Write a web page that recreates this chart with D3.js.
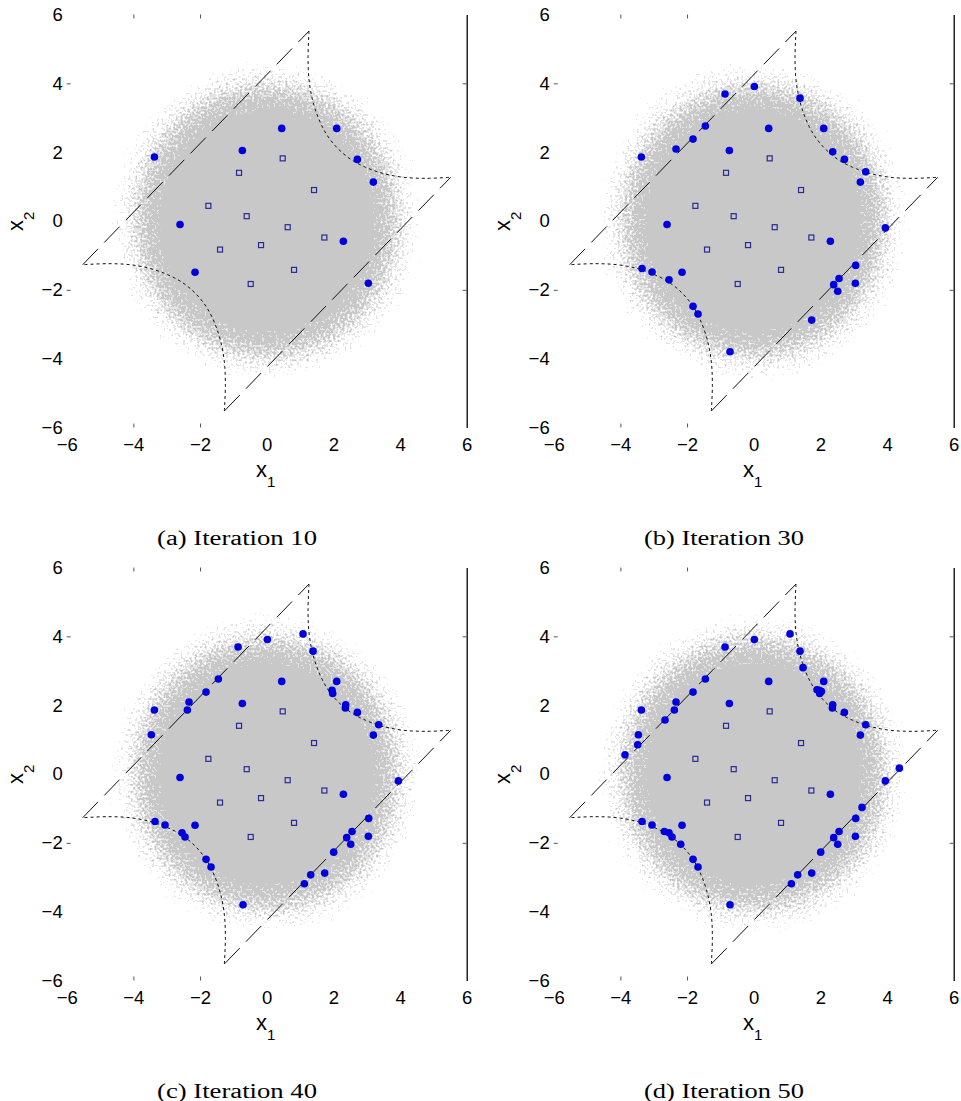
<!DOCTYPE html>
<html>
<head>
<meta charset="utf-8">
<script src="https://cdn.jsdelivr.net/npm/d3@7"></script>
<style>
  body { margin: 0; background: #fff; }
  svg text { font-family: "Liberation Sans", Arial, sans-serif; }
</style>
</head>
<body>
<div id="chart"></div>
<script>
// ---- values ----
var iterations = [10, 30, 40, 50];
var panelTags = ["(a)", "(b)", "(c)", "(d)"];
var axisTicks = [-6, -4, -2, 0, 2, 4, 6];
var markedTicksX = [-4, -2];   // only these tick marks survive in the picture
var markedTicksY = [4, -2];

// initial design (open squares)
var initialDesign = [
	[0.48, 1.82], [-0.83, 1.40], [1.42, 0.90], [-1.75, 0.44], [-0.60, 0.14], [0.63, -0.18],
	[1.73, -0.48], [-0.17, -0.70], [-1.40, -0.83], [0.82, -1.42], [-0.48, -1.83]
];

// added samples, in the order they were added
var addedPoints = [
	[-3.37, 1.86], [-0.73, 2.05], [0.45, 2.69], [2.10, 2.69], [2.72, 1.79],
	[3.20, 1.13], [-2.60, -0.10], [2.30, -0.59], [-2.15, -1.49], [3.05, -1.81],

	[0.02, 3.91], [-0.86, 3.69], [1.39, 3.57], [-1.45, 2.76], [-1.82, 2.38],
	[-2.33, 2.09], [2.37, 2.01], [3.36, 1.43], [3.95, -0.20], [-3.35, -1.38],
	[-3.05, -1.48], [-2.54, -1.71], [3.06, -1.29], [2.56, -1.67], [2.40, -1.85],
	[2.52, -2.04], [-1.82, -2.48], [-1.67, -2.70], [1.74, -2.88], [-0.71, -3.80],

	[1.09, 4.07], [1.96, 2.43], [1.98, 2.34], [2.36, 1.92], [-2.38, 1.86],
	[-3.46, 1.14], [-2.45, -1.83], [2.01, -2.27], [1.32, -2.93], [1.13, -3.19],

	[1.48, 3.09], [2.03, 2.40], [-2.66, 1.57], [-3.48, 0.85], [-3.86, 0.56],
	[4.37, 0.17], [3.25, -0.97], [-2.68, -1.67], [-2.19, -2.04], [1.90, 2.45]
];

// limit state boundary
var lineUpperLeft = [[-5.52, -1.27], [1.27, 5.52]];
var lineLowerRight = [[-1.27, -5.52], [5.52, 1.27]];
var curveUpperRight = [
	[1.27, 5.52], [1.24, 4.77], [1.27, 4.10], [1.38, 3.50], [1.56, 2.97], [1.80, 2.51], [2.12, 2.12],
	[2.51, 1.80], [2.97, 1.56], [3.50, 1.38], [4.10, 1.27], [4.77, 1.24], [5.52, 1.27]
];
var curveLowerLeft = [
	[-1.27, -5.52], [-1.24, -4.77], [-1.27, -4.10], [-1.38, -3.50], [-1.56, -2.97], [-1.80, -2.51], [-2.12, -2.12],
	[-2.51, -1.80], [-2.97, -1.56], [-3.50, -1.38], [-4.10, -1.27], [-4.77, -1.24], [-5.52, -1.27]
];

// density of the grey sample cloud against radius (solid up to the 2nd entry)
var cloudDensity = [[0, 1], [3.2, 1], [3.5, 0.9], [3.8, 0.75], [4.1, 0.55], [4.4, 0.4], [4.7, 0.25], [5.0, 0]];

// ---- layout ----
var W = 961, H = 1101;
var panelShift = [[0, 0], [487, 0], [0, 553], [487, 553]];

var x = d3.scaleLinear().domain([-6, 6]).range([66.7, 466.7]);
var y = d3.scaleLinear().domain([-6, 6]).range([427.5, 14.5]);
var cloudR = cloudDensity[cloudDensity.length - 1][0];
var coreR = cloudDensity[1][0];

var svg = d3.select("#chart").append("svg")
	.attr("width", W)
	.attr("height", H);

var defs = svg.append("defs");

defs.append("radialGradient").attr("id", "cloudGrad")
	.selectAll("stop")
	.data(cloudDensity)
	.enter()
	.append("stop")
	.attr("offset", function (d) { return d[0] / cloudR; })
	.attr("stop-color", "#000")
	.attr("stop-opacity", function (d) { return d[1]; });

var line = d3.line()
	.x(function (d) { return x(d[0]); })
	.y(function (d) { return y(d[1]); });
var curve = d3.line()
	.x(function (d) { return x(d[0]); })
	.y(function (d) { return y(d[1]); })
	.curve(d3.curveCatmullRom);

iterations.forEach(function (iter, i) {

	// speckle filter, turns the smooth density into grains
	var f = defs.append("filter").attr("id", "speckle" + i)
		.attr("filterUnits", "userSpaceOnUse")
		.attr("x", x(-cloudR)).attr("y", y(cloudR))
		.attr("width", x(cloudR) - x(-cloudR))
		.attr("height", y(-cloudR) - y(cloudR))
		.attr("color-interpolation-filters", "sRGB");
	f.append("feTurbulence").attr("type", "fractalNoise").attr("baseFrequency", 0.42)
		.attr("numOctaves", 1).attr("seed", 3 + i * 11).attr("result", "noise");
	f.append("feColorMatrix").attr("in", "noise").attr("type", "matrix")
		.attr("values", "0 0 0 0 0  0 0 0 0 0  0 0 0 0 0  1 0 0 0 0").attr("result", "na");
	f.append("feComposite").attr("in", "SourceGraphic").attr("in2", "na").attr("operator", "arithmetic")
		.attr("k1", 0).attr("k2", 1.6).attr("k3", 2).attr("k4", -1.6).attr("result", "mix");
	f.append("feComponentTransfer").attr("in", "mix").attr("result", "mask")
		.append("feFuncA").attr("type", "discrete").attr("tableValues", "0 0.5 1");
	f.append("feFlood").attr("flood-color", "#c8c8c8").attr("result", "grey");
	f.append("feComposite").attr("in", "grey").attr("in2", "mask").attr("operator", "in");

	var g = svg.append("g")
		.attr("transform", "translate(" + panelShift[i][0] + "," + panelShift[i][1] + ")");

	g.append("ellipse")
		.attr("cx", x(0))
		.attr("cy", y(0))
		.attr("rx", x(coreR) - x(0))
		.attr("ry", y(0) - y(coreR))
		.attr("fill", "#c8c8c8");
	g.append("ellipse")
		.attr("cx", x(0))
		.attr("cy", y(0))
		.attr("rx", x(cloudR) - x(0))
		.attr("ry", y(0) - y(cloudR))
		.attr("fill", "url(#cloudGrad)")
		.attr("filter", "url(#speckle" + i + ")");

	// boundary
	[lineUpperLeft, lineLowerRight].forEach(function (l) {
		g.append("path").attr("d", line(l))
			.attr("style", "fill: none; stroke: #111; stroke-width: 1; stroke-dasharray: 22,9;");
	});
	[curveUpperRight, curveLowerLeft].forEach(function (c) {
		g.append("path").attr("d", curve(c))
			.attr("style", "fill: none; stroke: #111; stroke-width: 1; stroke-dasharray: 3,3;");
	});

	g.selectAll("rect.init")
		.data(initialDesign)
		.enter()
		.append("rect")
		.attr("class", "init")
		.attr("x", function (d) { return x(d[0]) - 2.5; })
		.attr("y", function (d) { return y(d[1]) - 2.5; })
		.attr("width", 5)
		.attr("height", 5)
		.attr("style", "fill: none; stroke: #2a2a96; stroke-width: 1.2;");

	g.selectAll("circle.added")
		.data(addedPoints.slice(0, iter))
		.enter()
		.append("circle")
		.attr("class", "added")
		.attr("cx", function (d) { return x(d[0]); })
		.attr("cy", function (d) { return y(d[1]); })
		.attr("r", 3.8)
		.attr("fill", "#0000dd");

	// tick labels
	var left = g.append("g").attr("transform", "translate(" + x(-6) + ",0)")
		.call(d3.axisLeft(y).tickValues(axisTicks).tickSize(0).tickPadding(4));
	var bottom = g.append("g").attr("transform", "translate(0," + y(-6) + ")")
		.call(d3.axisBottom(x).tickValues(axisTicks).tickSize(0).tickPadding(10));
	[left, bottom].forEach(function (a) {
		a.select(".domain").remove();
		a.selectAll("text").attr("font-size", 18.5).attr("font-family", null).attr("fill", "#000");
	});

	// tick marks (inward), right frame line
	var marks = [
		g.append("g").attr("transform", "translate(0," + y(6) + ")")
			.call(d3.axisTop(x).tickValues(markedTicksX).tickSize(-4)),
		g.append("g").attr("transform", "translate(0," + y(-6) + ")")
			.call(d3.axisBottom(x).tickValues(markedTicksX).tickSize(-4)),
		g.append("g").attr("transform", "translate(" + x(-6) + ",0)")
			.call(d3.axisLeft(y).tickValues(markedTicksY).tickSize(-4))
	];
	marks.forEach(function (a) { a.select(".domain").remove(); });
	var right = g.append("g").attr("transform", "translate(" + x(6) + ",0)")
		.call(d3.axisRight(y).tickValues(markedTicksY).tickSizeInner(-4).tickSizeOuter(0));
	marks.push(right);
	marks.forEach(function (a) {
		a.selectAll("text").remove();
		a.selectAll(".tick line").attr("stroke", "#555");
	});
	right.select(".domain").attr("stroke", "#000").attr("stroke-width", 1.3);

	// axis titles
	var xt = g.append("text").attr("x", 256).attr("y", 477);
	xt.append("tspan").attr("font-size", 22).text("x");
	xt.append("tspan").attr("font-size", 15).attr("dy", 10).text("1");

	var yt = g.append("text").attr("transform", "translate(23,231) rotate(-90)");
	yt.append("tspan").attr("font-size", 22).text("x");
	yt.append("tspan").attr("font-size", 15).attr("dy", 11).text("2");

	// caption
	g.append("text")
		.attr("x", 237)
		.attr("y", 545)
		.attr("text-anchor", "middle")
		.attr("textLength", 160)
		.attr("lengthAdjust", "spacingAndGlyphs")
		.attr("style", "font-family: 'Liberation Serif', 'Times New Roman', serif; font-size: 20px;")
		.text(panelTags[i] + " Iteration " + iter);
});
</script>
</body>
</html>
